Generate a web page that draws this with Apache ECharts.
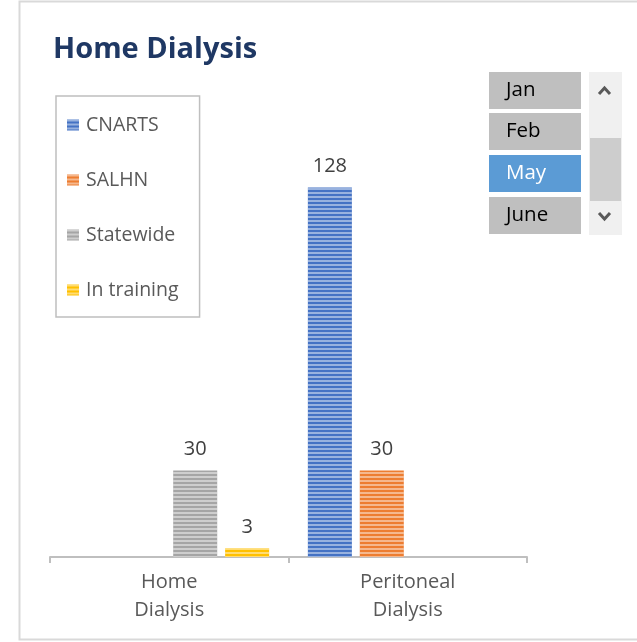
<!DOCTYPE html>
<html>
<head>
<meta charset="utf-8">
<script src="https://cdn.jsdelivr.net/npm/echarts@6/dist/echarts.min.js"></script>
<style>
html,body{margin:0;padding:0;background:#fff;}
#main{width:637px;height:642px;}
</style>
</head>
<body>
<div id="main"></div>
<script>
var categories = ["Home\nDialysis", "Peritoneal\nDialysis"];
var seriesNames = ["CNARTS", "SALHN", "Statewide", "In training"];
var cnarts = [null, 128];
var salhn = [null, 30];
var statewide = [30, null];
var inTraining = [3, null];
var colors = ["#4472c4", "#ed7d31", "#a5a5a5", "#ffc000"];
var months = ["Jan", "Feb", "May", "June"];
var selectedMonth = "May";

var font = "'Open Sans', 'Liberation Sans', sans-serif";

function stripes(){
    return {
        symbol: "rect",
        symbolSize: 1,
        dashArrayX: [1, 0],
        dashArrayY: [2, 2],
        rotation: 0,
        color: "rgba(255,255,255,0.45)"
    };
}

function makeSeries(name, data, i){
    return {
        name: name,
        type: "bar",
        data: data,
        barWidth: 44,
        barGap: "18%",
        itemStyle: { color: colors[i], decal: stripes() },
        label: {
            show: true,
            position: "top",
            distance: 11,
            color: "#404040",
            fontSize: 20,
            fontFamily: font
        }
    };
}

// slicer drawn as graphic elements
var slicer = [];
for (var i = 0; i < months.length; i++) {
    var y = [72, 113, 155, 197][i];
    var sel = months[i] == selectedMonth;
    slicer.push({
        type: "rect",
        shape: { x: 489, y: y, width: 92, height: 37 },
        style: { fill: sel ? "#5b9bd5" : "#bfbfbf" }
    });
    slicer.push({
        type: "text",
        x: 506, y: y + 18.5,
        style: {
            text: months[i], fontSize: 20.5, fontFamily: font,
            fill: sel ? "#ffffff" : "#000000", verticalAlign: "middle"
        }
    });
}
slicer.push({ type: "rect", shape: { x: 589, y: 72, width: 33, height: 163 }, style: { fill: "#f0f0f0" } });
slicer.push({ type: "rect", shape: { x: 590, y: 138, width: 31, height: 63 }, style: { fill: "#cdcdcd" } });
slicer.push({ type: "polyline", shape: { points: [[599, 94], [604.5, 88], [610, 94]] }, style: { stroke: "#595959", lineWidth: 3, fill: null } });
slicer.push({ type: "polyline", shape: { points: [[599, 213], [604.5, 219], [610, 213]] }, style: { stroke: "#595959", lineWidth: 3, fill: null } });
slicer.push({ type: "rect", shape: { x: 19.5, y: 1.5, width: 640, height: 638 }, style: { fill: null, stroke: "#d9d9d9", lineWidth: 2 }, z: -1 });

var option = {
    backgroundColor: "#fff",
    animation: false,
    title: {
        text: "Home Dialysis",
        left: 48,
        top: 30,
        textStyle: { color: "#1f3864", fontSize: 29, fontWeight: "bold", fontFamily: font }
    },
    legend: {
        orient: "vertical",
        left: 56,
        top: 96,
        padding: [19, 21, 17, 11],
        itemGap: 35,
        itemWidth: 12,
        itemHeight: 11,
        icon: "rect",
        borderColor: "#bfbfbf",
        borderWidth: 1.5,
        textStyle: { color: "#595959", fontSize: 19.5, fontFamily: font, lineHeight: 20, padding: [0, 0, 0, 2] },
        data: seriesNames
    },
    grid: { left: 50, right: 110, top: 95, bottom: 85 },
    xAxis: {
        type: "category",
        data: categories,
        axisLine: { lineStyle: { color: "#bfbfbf", width: 2 } },
        axisTick: { show: true, length: 6, lineStyle: { color: "#bfbfbf", width: 2 } },
        axisLabel: { color: "#595959", fontSize: 20, fontFamily: font, lineHeight: 28, margin: 11 }
    },
    yAxis: { type: "value", min: 0, max: 160, show: false, splitLine: { show: false } },
    series: [
        makeSeries(seriesNames[0], cnarts, 0),
        makeSeries(seriesNames[1], salhn, 1),
        makeSeries(seriesNames[2], statewide, 2),
        makeSeries(seriesNames[3], inTraining, 3)
    ],
    graphic: slicer
};

var chart = echarts.init(document.getElementById("main"));
chart.setOption(option);
</script>
</body>
</html>
